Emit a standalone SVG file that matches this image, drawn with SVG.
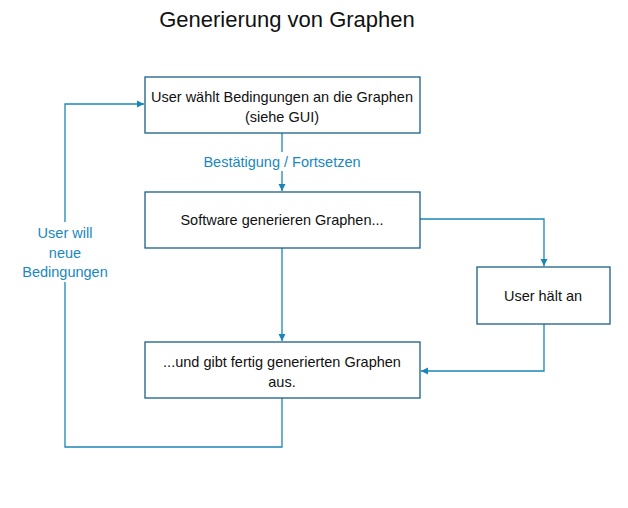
<svg xmlns="http://www.w3.org/2000/svg" width="628" height="508" viewBox="0 0 628 508">
<style>
.box{fill:#fff;stroke:#1a5f86;stroke-width:1.3}
.t{font-family:"Liberation Sans",Arial,sans-serif;font-size:14.5px;fill:#111;text-anchor:middle}
.lbl{font-family:"Liberation Sans",Arial,sans-serif;font-size:14.5px;fill:#1a88c0;text-anchor:middle}
.c{fill:none;stroke:#1a86b8;stroke-width:1.3}
.title{font-family:"Liberation Sans",Arial,sans-serif;font-size:22px;fill:#111;text-anchor:middle}
</style>
<defs>
<marker id="a" markerWidth="8" markerHeight="8" refX="7" refY="4" orient="auto" markerUnits="userSpaceOnUse">
<path d="M0,0.5 L7,4 L0,7.5 Z" fill="#1a86b8"/>
</marker>
</defs>
<rect width="628" height="508" fill="#fff"/>
<text class="title" x="287" y="27">Generierung von Graphen</text>
<g id="connectors">
<path class="c" d="M282,133 V191" marker-end="url(#a)"/>
<path class="c" d="M282,248 V341" marker-end="url(#a)"/>
<path class="c" d="M420,219 H544 V266" marker-end="url(#a)"/>
<path class="c" d="M544,324 V371 H421" marker-end="url(#a)"/>
<path class="c" d="M282,398 V447 H65 V104 H144" marker-end="url(#a)"/>
</g>
<rect x="192" y="152" width="181" height="19" fill="#fff"/>
<text class="lbl" x="282" y="167">Bestätigung / Fortsetzen</text>
<rect x="18" y="222" width="94" height="60" fill="#fff"/>
<text class="lbl" x="65" y="238">User will</text>
<text class="lbl" x="65" y="258">neue</text>
<text class="lbl" x="65" y="277">Bedingungen</text>
<g id="n1">
<rect class="box" x="145" y="77" width="275" height="56"/>
<text class="t" x="282" y="102">User wählt Bedingungen an die Graphen</text>
<text class="t" x="282" y="122">(siehe GUI)</text>
</g>
<g id="n2">
<rect class="box" x="145" y="192" width="275" height="56"/>
<text class="t" x="282" y="225">Software generieren Graphen...</text>
</g>
<g id="n3">
<rect class="box" x="477" y="267" width="133" height="57"/>
<text class="t" x="543" y="301">User hält an</text>
</g>
<g id="n4">
<rect class="box" x="145" y="342" width="275" height="56"/>
<text class="t" x="282" y="367">...und gibt fertig generierten Graphen</text>
<text class="t" x="282" y="387">aus.</text>
</g>
</svg>
